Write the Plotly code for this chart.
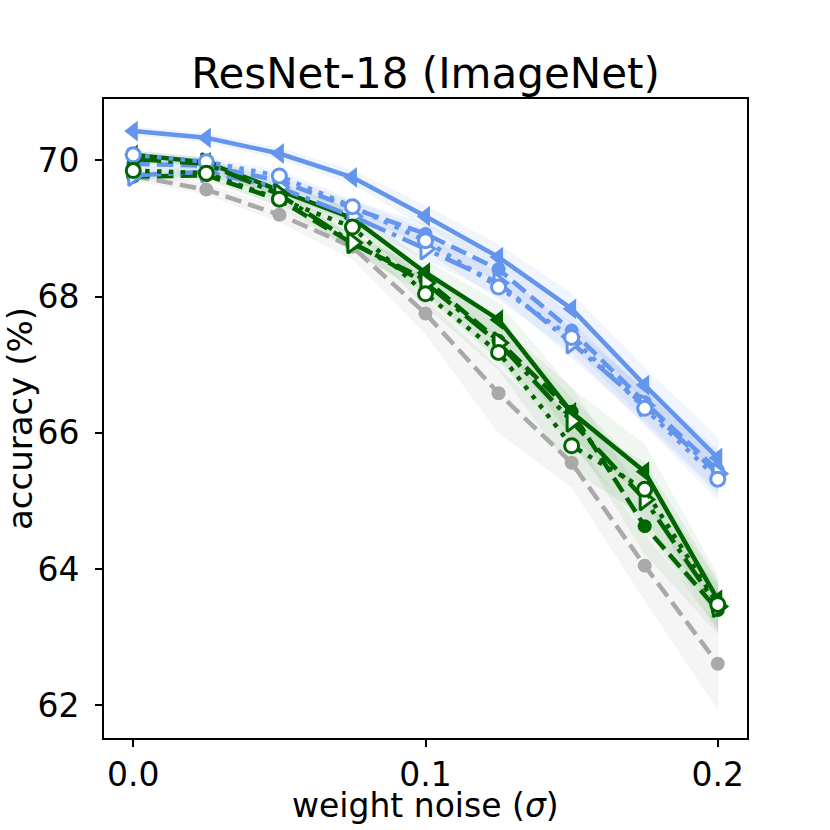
import plotly.graph_objects as go

sigma = [0.0, 0.025, 0.05, 0.075, 0.1, 0.125, 0.15, 0.175, 0.2]

gray_mean = [69.77, 69.57, 69.20, 68.73, 67.75, 66.58, 65.56, 64.05, 62.61]
gray_lo = [69.70, 69.50, 69.10, 68.55, 67.45, 66.00, 65.20, 63.55, 61.95]
gray_hi = [69.85, 69.65, 69.30, 68.85, 67.95, 66.95, 65.95, 64.50, 63.20]

blue_solid = [70.43, 70.33, 70.10, 69.75, 69.18, 68.58, 67.82, 66.70, 65.63]
blue_dashed = [69.95, 69.92, 69.70, 69.30, 68.92, 68.40, 67.50, 66.45, 65.45]
blue_dashdot = [69.78, 69.83, 69.60, 69.18, 68.70, 68.20, 67.32, 66.40, 65.40]
blue_dotted = [70.08, 69.98, 69.77, 69.32, 68.82, 68.14, 67.40, 66.36, 65.32]

green_solid = [70.08, 69.97, 69.56, 69.15, 68.35, 67.66, 66.30, 65.43, 63.55]
green_dashed = [69.76, 69.78, 69.42, 68.78, 68.25, 67.35, 66.31, 64.63, 63.40]
green_dashdot = [70.02, 69.95, 69.50, 68.79, 68.20, 67.32, 66.17, 65.02, 63.45]
green_dotted = [69.85, 69.81, 69.43, 69.02, 68.04, 67.18, 65.81, 65.17, 63.48]

band_spread = [0.06, 0.06, 0.08, 0.10, 0.15, 0.18, 0.22, 0.25, 0.30]
green_spread = [0.06, 0.07, 0.10, 0.12, 0.18, 0.25, 0.35, 0.40, 0.35]

x_title = "weight noise (<i>σ</i>)"
y_title = "accuracy (%)"
chart_title = "ResNet-18 (ImageNet)"

BLUE = "#6495ED"
GREEN = "#006400"
GRAY = "#A9A9A9"
FONT = "DejaVu Sans"

fig = go.Figure()

def band(lo, hi, color):
    fig.add_trace(go.Scatter(x=sigma + sigma[::-1], y=hi + lo[::-1], fill="toself",
                             fillcolor=color, line=dict(width=0.6, color=color),
                             mode="lines", hoverinfo="skip", showlegend=False))

band(gray_lo, gray_hi, "rgba(169,169,169,0.12)")
for s in [blue_solid, blue_dashed, blue_dashdot, blue_dotted]:
    band([v - d for v, d in zip(s, band_spread)], [v + d for v, d in zip(s, band_spread)],
         "rgba(100,149,237,0.09)")
for s in [green_solid, green_dashed, green_dashdot, green_dotted]:
    band([v - d for v, d in zip(s, green_spread)], [v + d for v, d in zip(s, green_spread)],
         "rgba(0,100,0,0.06)")

LW = 4.5
DASH = "16.5px,7.2px"
DOT = "4.5px,7.4px"
DASHDOT = "28px,7.2px,4.5px,7.2px"

def line(y, color, dash, symbol, fill):
    fig.add_trace(go.Scatter(
        x=sigma, y=y, mode="lines+markers",
        line=dict(color=color, width=LW, dash=dash),
        marker=dict(symbol=symbol, size=14 if "circle" in symbol else 18,
                    color=fill, line=dict(color=color, width=3 if fill == "white" else 0)),
        hoverinfo="skip", showlegend=False))

line(gray_mean, GRAY, DASH, "circle", GRAY)
line(blue_solid, BLUE, "solid", "triangle-left", BLUE)
line(green_solid, GREEN, "solid", "triangle-left", GREEN)
line(blue_dashed, BLUE, DASH, "circle", BLUE)
line(green_dashed, GREEN, DASH, "circle", GREEN)
line(blue_dashdot, BLUE, DASHDOT, "triangle-right", "white")
line(green_dashdot, GREEN, DASHDOT, "triangle-right", "white")
line(blue_dotted, BLUE, DOT, "circle", "white")
line(green_dotted, GREEN, DOT, "circle", "white")

axis_common = dict(showline=True, linecolor="black", linewidth=1.6, mirror=True,
                   ticks="outside", ticklen=7, tickwidth=1.6, tickcolor="black",
                   showgrid=False, zeroline=False, automargin=False,
                   tickfont=dict(family=FONT, size=33, color="black"))

fig.update_layout(
    width=830, height=830,
    margin=dict(l=104, r=83, t=99, b=92, pad=0),
    plot_bgcolor="white", paper_bgcolor="white",
    hovermode=False,
    title=dict(text=chart_title, x=0.5, xanchor="center", xref="paper",
               y=0.912, yanchor="middle",
               font=dict(family=FONT, size=42, color="black")),
    xaxis=dict(range=[-0.01, 0.21], tickvals=[0.0, 0.1, 0.2], ticktext=["0.0", "0.1", "0.2"],
               **axis_common),
    yaxis=dict(range=[61.52, 70.9], tickvals=[62, 64, 66, 68, 70], ticklabelstandoff=9,
               title=dict(text=y_title, standoff=5,
                          font=dict(family=FONT, size=34, color="black")),
               **axis_common),
)

fig.add_annotation(text=x_title, xref="paper", yref="paper", x=0.5, y=-0.106,
                   xanchor="center", yanchor="middle", showarrow=False,
                   font=dict(family=FONT, size=33, color="black"))

fig.write_html("out.html", config={"displayModeBar": False},
               post_script="document.body.style.margin='0';document.body.style.overflow='hidden';")
